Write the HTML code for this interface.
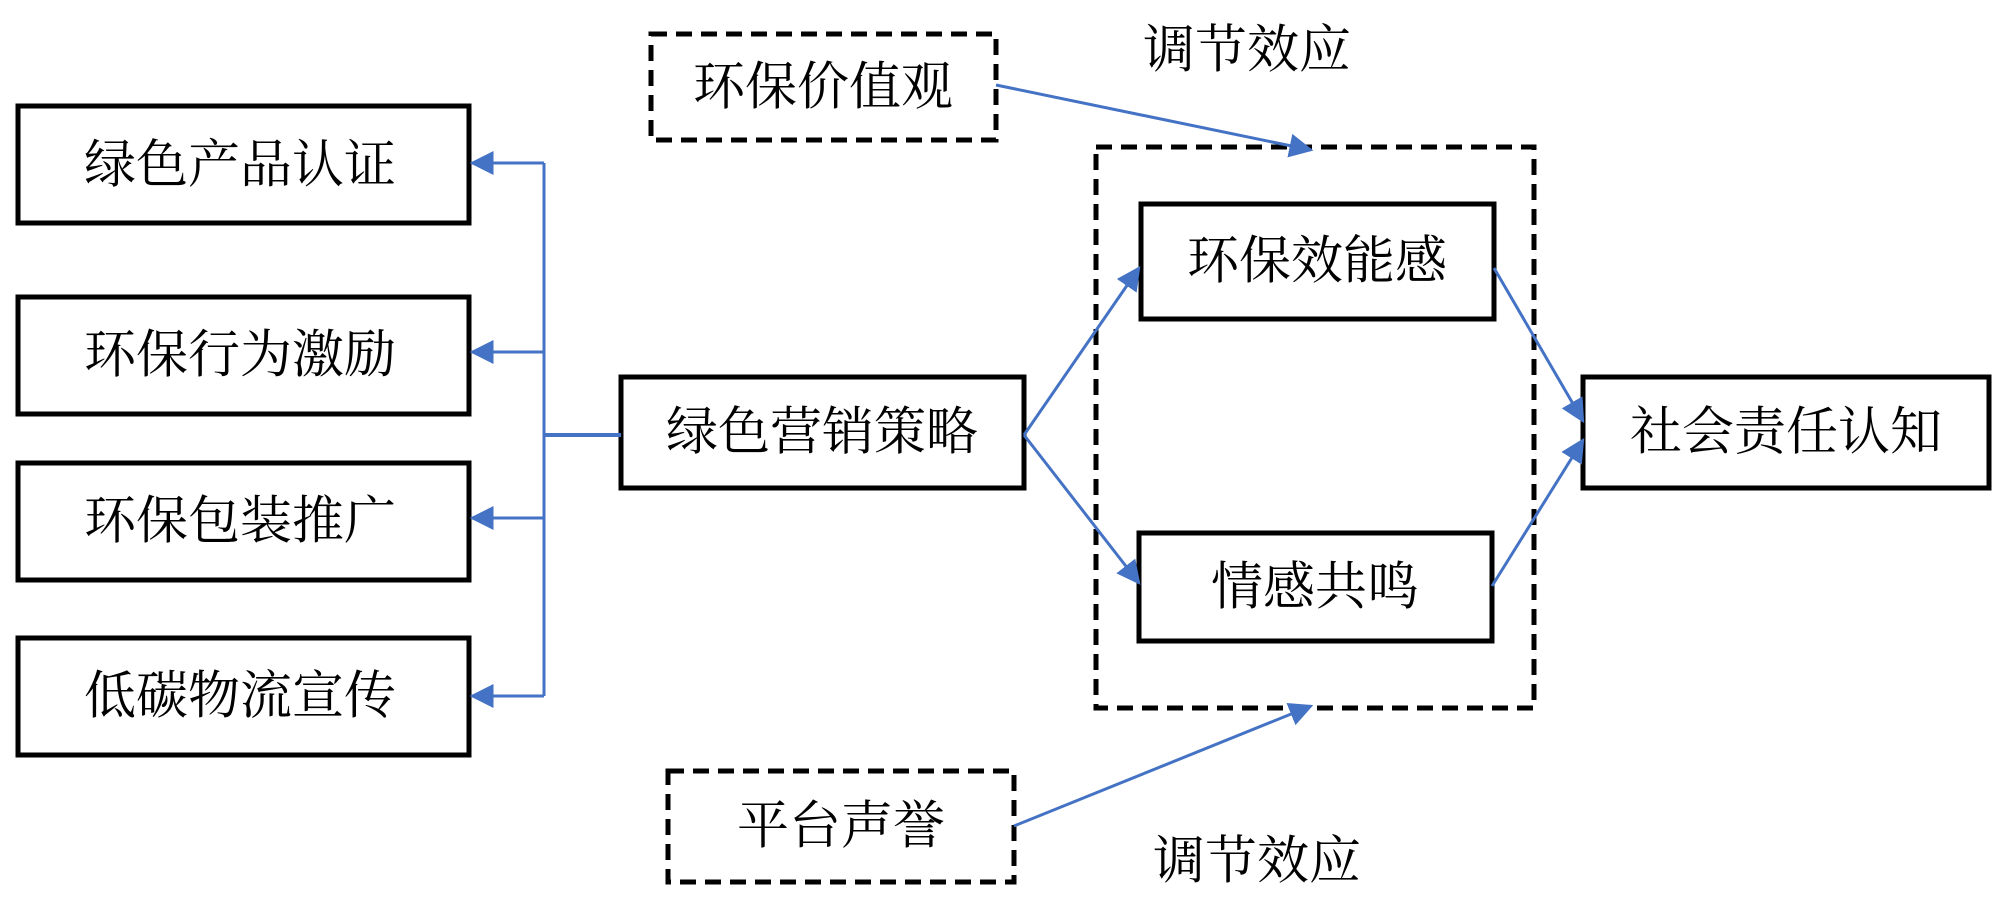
<!DOCTYPE html>
<html><head><meta charset="utf-8"><style>
html,body{margin:0;padding:0;background:#fff;}
svg{display:block}
text{font-family:"Liberation Serif","Noto Serif CJK SC",serif;font-size:52px;fill:#000;text-anchor:middle;dominant-baseline:central}
</style></head><body>
<svg width="1999" height="921" viewBox="0 0 1999 921" xmlns="http://www.w3.org/2000/svg">
<defs>
<marker id="b" viewBox="0 0 10 10" refX="9" refY="5" markerWidth="24" markerHeight="24" markerUnits="userSpaceOnUse" orient="auto">
<path d="M0,0 L10,5 L0,10 z" fill="#4472C4"/></marker>
</defs>
<g fill="none" stroke="#000" stroke-width="5">
<rect x="18" y="106" width="451" height="117"/>
<rect x="18" y="297" width="451" height="117"/>
<rect x="18" y="463" width="451" height="117"/>
<rect x="18" y="638" width="451" height="117"/>
<rect x="621" y="377" width="403" height="111"/>
<rect x="1141" y="204" width="353" height="115"/>
<rect x="1139" y="533" width="353" height="108"/>
<rect x="1583" y="377" width="406" height="111"/>
</g>
<g fill="none" stroke="#000" stroke-width="5" stroke-dasharray="16,9">
<rect x="651" y="34" width="345" height="106"/>
<rect x="1096" y="147" width="438" height="561"/>
<rect x="668" y="771" width="346" height="111"/>
</g>
<g fill="none" stroke="#4472C4" stroke-width="3">
<line x1="544" y1="163" x2="544" y2="696"/>
<line x1="544" y1="435" x2="621" y2="435" stroke-width="4"/>
<line x1="544" y1="163" x2="472" y2="163" marker-end="url(#b)"/>
<line x1="544" y1="352" x2="472" y2="352" marker-end="url(#b)"/>
<line x1="544" y1="518" x2="472" y2="518" marker-end="url(#b)"/>
<line x1="544" y1="696" x2="472" y2="696" marker-end="url(#b)"/>
<line x1="1024" y1="435" x2="1139" y2="268" marker-end="url(#b)"/>
<line x1="1024" y1="435" x2="1139" y2="583" marker-end="url(#b)"/>
<line x1="1494" y1="268" x2="1583" y2="421" marker-end="url(#b)"/>
<line x1="1492" y1="586" x2="1583" y2="440" marker-end="url(#b)"/>
<line x1="996" y1="85" x2="1311" y2="150" marker-end="url(#b)"/>
<line x1="1014" y1="826" x2="1311" y2="706" marker-end="url(#b)"/>
</g>
<text x="240" y="166">绿色产品认证</text>
<text x="240" y="356">环保行为激励</text>
<text x="240" y="522">环保包装推广</text>
<text x="240" y="697">低碳物流宣传</text>
<text x="822" y="433">绿色营销策略</text>
<text x="1317" y="262">环保效能感</text>
<text x="1315" y="588">情感共鸣</text>
<text x="1786" y="433">社会责任认知</text>
<text x="823" y="88">环保价值观</text>
<text x="841" y="827">平台声誉</text>
<text x="1247" y="51">调节效应</text>
<text x="1257" y="862">调节效应</text>
</svg>
</body></html>
